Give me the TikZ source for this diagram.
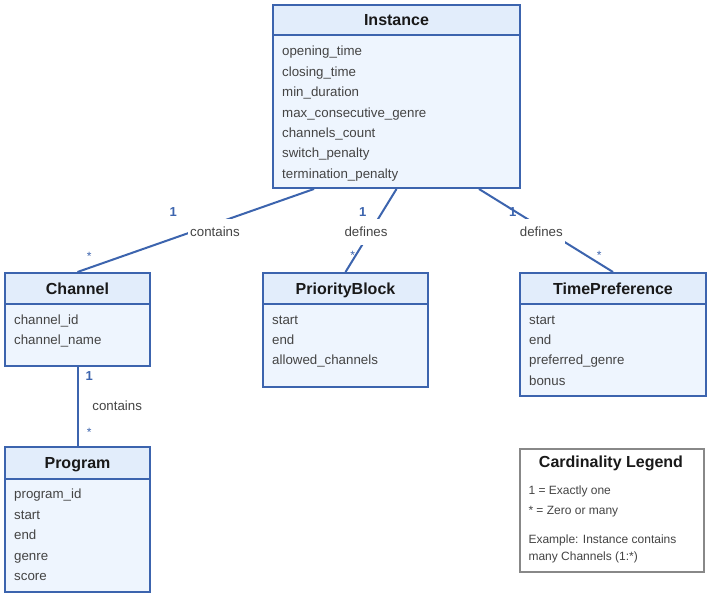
\documentclass[tikz,border=0pt]{standalone}
\usepackage{fontspec}
\setmainfont{Liberation Sans}
\definecolor{umlblue}{HTML}{3C64AE}
\definecolor{headfill}{HTML}{E2EDFB}
\definecolor{bodyfill}{HTML}{EEF5FE}
\definecolor{attrgray}{HTML}{444444}
\definecolor{legendgray}{HTML}{888888}
\tikzset{
    classhead/.style={draw=umlblue, line width=2pt, fill=headfill, anchor=north west, inner sep=0pt,
        minimum height=31pt, text height=11.6pt, text depth=0pt, text=black!90,
        font=\fontsize{16}{19}\selectfont\bfseries},
    classbody/.style={draw=umlblue, line width=2pt, fill=bodyfill, anchor=north west, inner sep=0pt},
    attr/.style={anchor=base west, inner sep=0pt, text=attrgray, font=\fontsize{13.3}{16}\selectfont},
    assoc/.style={draw=umlblue, line width=2pt},
    rolename/.style={anchor=base, fill=white, inner xsep=2pt, inner ysep=0pt, text height=17pt,
        text depth=9pt, text=attrgray, font=\fontsize{13.3}{16}\selectfont},
    one/.style={anchor=base, inner sep=0pt, text=umlblue, font=\fontsize{13}{15}\selectfont\bfseries},
    many/.style={anchor=base, inner sep=0pt, text=umlblue, font=\fontsize{12}{14}\selectfont},
    legendtext/.style={anchor=base west, inner sep=0pt, text=attrgray, font=\fontsize{12}{14}\selectfont},
}
\begin{document}
\begin{tikzpicture}[x=1pt, y=-1pt]
    \useasboundingbox[fill=white] (0,0) rectangle (709,596);

    % classes
    \node[classbody, minimum width=247pt, minimum height=153pt] (instbody) at (272,34) {};
    \node[classhead, minimum width=247pt, minimum height=30pt] (insthead) at (272,4) {Instance};
    \node[classbody, minimum width=145pt, minimum height=62pt] (chanbody) at (4,303) {};
    \node[classhead, minimum width=145pt] (chanhead) at (4,272) {Channel};
    \node[classbody, minimum width=165pt, minimum height=83pt] (prioBody) at (262,303) {};
    \node[classhead, minimum width=165pt] (priohead) at (262,272) {PriorityBlock};
    \node[classbody, minimum width=186pt, minimum height=92pt] (timebody) at (519,303) {};
    \node[classhead, minimum width=186pt] (timehead) at (519,272) {TimePreference};
    \node[classbody, minimum width=145pt, minimum height=113pt] (progbody) at (4,478) {};
    \node[classhead, minimum width=145pt, minimum height=32pt] (proghead) at (4,446) {Program};

    % attributes
    \node[attr] (inst1) at (282,56) {opening\_time};
    \node[attr] (inst2) at (282,76.4) {closing\_time};
    \node[attr] (inst3) at (282,96.8) {min\_duration};
    \node[attr] (inst4) at (282,117.2) {max\_consecutive\_genre};
    \node[attr] (inst5) at (282,137.6) {channels\_count};
    \node[attr] (inst6) at (282,158) {switch\_penalty};
    \node[attr] (inst7) at (282,178.4) {termination\_penalty};
    \node[attr] (chan1) at (14,324) {channel\_id};
    \node[attr] (chan2) at (14,344.3) {channel\_name};
    \node[attr] (prio1) at (272,324) {start};
    \node[attr] (prio2) at (272,344.4) {end};
    \node[attr] (prio3) at (272,364.8) {allowed\_channels};
    \node[attr] (time1) at (529,324) {start};
    \node[attr] (time2) at (529,344.4) {end};
    \node[attr] (time3) at (529,364.8) {preferred\_genre};
    \node[attr] (time4) at (529,385.2) {bonus};
    \node[attr] (prog1) at (14,498.5) {program\_id};
    \node[attr] (prog2) at (14,519) {start};
    \node[attr] (prog3) at (14,539.5) {end};
    \node[attr] (prog4) at (14,560) {genre};
    \node[attr] (prog5) at (14,580.5) {score};

    % associations
    \draw[assoc] ([xshift=-82.5pt]instbody.south) -- (chanhead.north);
    \draw[assoc] (instbody.south) -- (priohead.north);
    \draw[assoc] ([xshift=82.5pt]instbody.south) -- (timehead.north);
    \draw[assoc] (chanbody.south) -- (proghead.north);

    \node[rolename] (contains1) at (215,236) {contains};
    \node[rolename] (defines1) at (366,236) {defines};
    \node[rolename] (defines2) at (541.3,236) {defines};
    \node[rolename, fill=none] (contains2) at (117.2,410.7) {contains};

    \node[one] (one1) at (173.3,216.5) {1};
    \node[one] (one2) at (362.7,216.5) {1};
    \node[one] (one3) at (512.7,216.5) {1};
    \node[one] (one4) at (89.3,380.7) {1};
    \node[many] (many1) at (89.3,260) {*};
    \node[many] (many2) at (352.7,259.5) {*};
    \node[many] (many3) at (599.3,259.5) {*};
    \node[many] (many4) at (89.3,436) {*};

    % legend
    \node[draw=legendgray, line width=2pt, fill=white, anchor=north west, minimum width=184pt,
        minimum height=123pt] (legend) at (519,447.5) {};
    \node[anchor=base, inner sep=0pt, text=black!90, font=\fontsize{16}{19}\selectfont\bfseries]
        (legendtitle) at (611,467.3) {Cardinality Legend};
    \node[legendtext] (legend1) at (528.3,494.3) {1 = Exactly one};
    \node[legendtext] (legend2) at (528.3,514) {* = Zero or many};
    \node[legendtext] (legend3) at (528.3,543.3) {Example: Instance contains};
    \node[legendtext] (legend4) at (528.3,560.7) {many Channels (1:*)};
\end{tikzpicture}
\end{document}
